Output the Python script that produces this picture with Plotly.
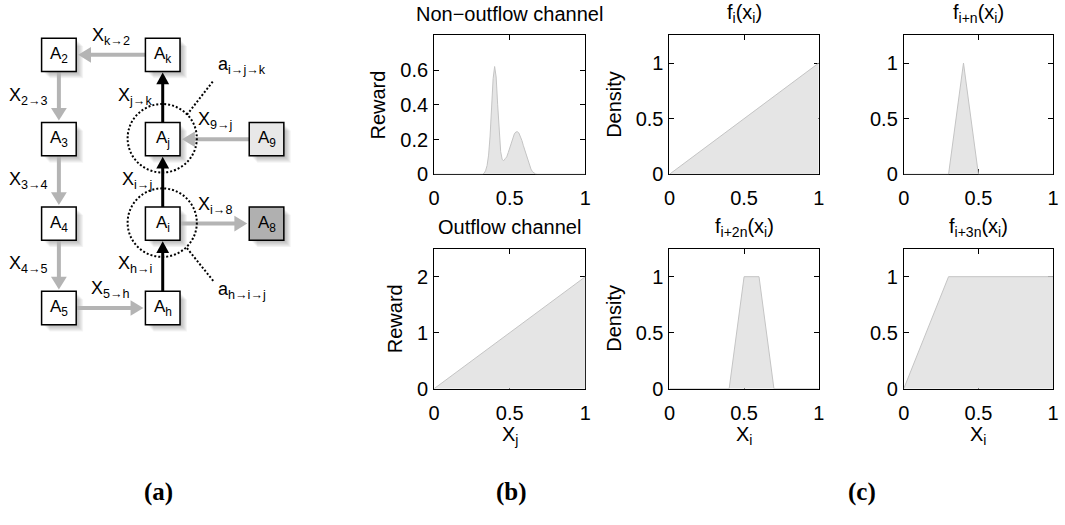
import plotly.graph_objects as go

W, H = 1065, 525

# ---------------- data: panel (b) ----------------
nonout_x = [0, 0.30, 0.32, 0.33, 0.34, 0.35, 0.36, 0.37, 0.38, 0.39, 0.40, 0.41, 0.42, 0.43,
            0.44, 0.45, 0.46, 0.47, 0.48, 0.49, 0.50, 0.51, 0.52, 0.53, 0.54, 0.55, 0.56, 0.57,
            0.58, 0.59, 0.60, 0.61, 0.62, 0.63, 0.64, 0.65, 0.66, 0.67, 0.68, 1.0]
nonout_r = [0, 0, 0, 0.005, 0.02, 0.05, 0.11, 0.22, 0.38, 0.55, 0.62, 0.56, 0.40, 0.24,
            0.13, 0.085, 0.078, 0.09, 0.10, 0.125, 0.155, 0.185, 0.21, 0.232, 0.243, 0.245, 0.238, 0.22,
            0.195, 0.165, 0.135, 0.105, 0.075, 0.05, 0.03, 0.015, 0.006, 0.002, 0, 0]
out_x = [0, 1]
out_r = [0, 2]

# ---------------- data: panel (c) ----------------
fi_x = [0, 1]
fi_y = [0, 1]
fin_x = [0, 0.3, 0.4, 0.5, 1]
fin_y = [0, 0, 1, 0, 0]
fi2n_x = [0, 0.4, 0.5, 0.6, 0.7, 1]
fi2n_y = [0, 0, 1, 1, 0, 0]
fi3n_x = [0, 0.3, 1]
fi3n_y = [0, 1, 1]

x_ticks = [0, 0.5, 1]
x_tick_text = ["0", "0.5", "1"]

# ---------------- data: diagram (a) ----------------
node_names = ["A2", "Ak", "A3", "Aj", "A9", "A4", "Ai", "A8", "A5", "Ah"]
node_text = ["A<sub>2</sub>", "A<sub>k</sub>", "A<sub>3</sub>", "A<sub>j</sub>", "A<sub>9</sub>",
             "A<sub>4</sub>", "A<sub>i</sub>", "A<sub>8</sub>", "A<sub>5</sub>", "A<sub>h</sub>"]
node_col = [0, 1, 0, 1, 2, 0, 1, 2, 0, 1]
node_row = [0, 0, 1, 1, 1, 2, 2, 2, 3, 3]
node_fill = ["white", "white", "white", "white", "#e8e8e8", "white", "white", "#b0b0b0", "white", "white"]

edge_src = ["Ak", "A2", "A3", "A4", "A5", "Ah", "Ai", "Aj", "A9", "Ai"]
edge_dst = ["A2", "A3", "A4", "A5", "Ah", "Ai", "Aj", "Ak", "Aj", "A8"]
edge_main = [False, False, False, False, False, True, True, True, False, False]
edge_text = ["X<sub>k→2</sub>", "X<sub>2→3</sub>", "X<sub>3→4</sub>", "X<sub>4→5</sub>", "X<sub>5→h</sub>",
             "X<sub>h→i</sub>", "X<sub>i→j</sub>", "X<sub>j→k</sub>", "X<sub>9→j</sub>", "X<sub>i→8</sub>"]

circle_nodes = ["Aj", "Ai"]
circle_text = ["a<sub>i→j→k</sub>", "a<sub>h→i→j</sub>"]

panel_labels = ["(a)", "(b)", "(c)"]

# ---------------- style ----------------
FONT = "Liberation Sans, Arial, Helvetica, sans-serif"
FILL = "#e5e5e5"
EDGE = "#c4c4c4"
GREY = "#b4b4b4"

fig = go.Figure()

panels = [
    dict(x=nonout_x, y=nonout_r, yr=[0, 0.8], yt=[0, 0.2, 0.4, 0.6], ytt=["0", "0.2", "0.4", "0.6"],
         title="Non−outflow channel", tsize=20, ylab="Reward", ylx=376, xlab=None),
    dict(x=fi_x, y=fi_y, yr=[0, 1.25], yt=[0, 0.5, 1], ytt=["0", "0.5", "1"],
         title="f<sub>i</sub>(x<sub>i</sub>)", tsize=20, ylab="Density", ylx=615, xlab=None),
    dict(x=fin_x, y=fin_y, yr=[0, 1.25], yt=[0, 0.5, 1], ytt=["0", "0.5", "1"],
         title="f<sub>i+n</sub>(x<sub>i</sub>)", tsize=20, ylab=None, ylx=None, xlab=None),
    dict(x=out_x, y=out_r, yr=[0, 2.5], yt=[0, 1, 2], ytt=["0", "1", "2"],
         title="Outflow channel", tsize=20, ylab="Reward", ylx=393, xlab="X<sub>j</sub>"),
    dict(x=fi2n_x, y=fi2n_y, yr=[0, 1.25], yt=[0, 0.5, 1], ytt=["0", "0.5", "1"],
         title="f<sub>i+2n</sub>(x<sub>i</sub>)", tsize=20, ylab="Density", ylx=615, xlab="X<sub>i</sub>"),
    dict(x=fi3n_x, y=fi3n_y, yr=[0, 1.25], yt=[0, 0.5, 1], ytt=["0", "0.5", "1"],
         title="f<sub>i+3n</sub>(x<sub>i</sub>)", tsize=20, ylab=None, ylx=None, xlab="X<sub>i</sub>"),
]

col_px = [(433, 586), (671, 822), (908, 1059)]
row_px = [(36, 178), (254, 397)]
title_py = [14, 232]

annotations = []
shapes = []

axis_common = dict(showline=True, linecolor="black", linewidth=1, mirror="ticks", ticks="inside",
                   ticklen=5, tickcolor="black", tickwidth=1, showgrid=False, zeroline=False,
                   tickfont=dict(family=FONT, size=20, color="black"), layer="below traces",
                   fixedrange=True)

for i, p in enumerate(panels):
    r, c = divmod(i, 3)
    sfx = "" if i == 0 else str(i + 1)
    fig.add_trace(go.Scatter(x=p["x"], y=p["y"], mode="lines", fill="tozeroy", fillcolor=FILL,
                             line=dict(color=EDGE, width=1), xaxis="x" + sfx, yaxis="y" + sfx,
                             showlegend=False, hoverinfo="skip"))
    x0, x1 = col_px[c]
    y0, y1 = row_px[r]
    fig.update_layout(**{
        "xaxis" + sfx: dict(domain=[x0 / W, x1 / W], range=[0, 1], tickvals=x_ticks, ticktext=x_tick_text,
                            anchor="y" + sfx, ticklabelstandoff=6, **axis_common),
        "yaxis" + sfx: dict(domain=[1 - y1 / H, 1 - y0 / H], range=p["yr"], tickvals=p["yt"], ticktext=p["ytt"],
                            anchor="x" + sfx, ticklabelstandoff=1, **axis_common),
    })
    annotations.append(dict(x=(x0 + x1) / 2 / W, y=1 - title_py[r] / H, xref="paper", yref="paper",
                            text=p["title"], showarrow=False, xanchor="center", yanchor="middle",
                            font=dict(family=FONT, size=p["tsize"], color="black")))
    if p["ylab"]:
        annotations.append(dict(x=p["ylx"] / W, y=1 - (y0 + y1) / 2 / H, xref="paper", yref="paper",
                                text=p["ylab"], showarrow=False, textangle=-90, xanchor="center",
                                yanchor="middle", font=dict(family=FONT, size=20, color="black")))
    if p["xlab"]:
        annotations.append(dict(x=(x0 + x1) / 2 / W, y=1 - 430 / H, xref="paper", yref="paper",
                                text=p["xlab"], showarrow=False, xanchor="center", yanchor="top",
                                font=dict(family=FONT, size=20, color="black")))

# ---------------- diagram (a) ----------------
def PX(x):
    return x / W


def PY(y):
    return 1 - y / H


DX0, DX, DY0, DY = 53.5, 105.0, 56.0, 86.2
BW, BH = 17.5, 17.0
centers = {n: (DX0 + c * DX, DY0 + r * DY) for n, c, r in zip(node_names, node_col, node_row)}

# shadows
for n in node_names:
    cx, cy = centers[n]
    for k in range(1, 8):
        shapes.append(dict(type="rect", xref="paper", yref="paper",
                           x0=PX(cx - BW + k + 1), x1=PX(cx + BW + k), y0=PY(cy - BH + k + 1), y1=PY(cy + BH + k),
                           fillcolor="black", opacity=0.045, line=dict(width=0), layer="above"))

# arrows
for s, d, main, txt in zip(edge_src, edge_dst, edge_main, edge_text):
    sx, sy = centers[s]
    dx, dy = centers[d]
    vx, vy = dx - sx, dy - sy
    ln = (vx ** 2 + vy ** 2) ** 0.5
    ux, uy = vx / ln, vy / ln
    color = "black" if main else GREY
    lw = 3 if main else 4
    L = 12 if main else 13
    hw = 6.5 if main else 8
    gap = 1 if main else 2
    start = (sx + ux * BW, sy + uy * BH)
    tip = (dx - ux * (BW + gap), dy - uy * (BH + gap))
    lend = (tip[0] - ux * L * 0.6, tip[1] - uy * L * 0.6)
    shapes.append(dict(type="line", xref="paper", yref="paper", x0=PX(start[0]), y0=PY(start[1]),
                       x1=PX(lend[0]), y1=PY(lend[1]), line=dict(color=color, width=lw), layer="above"))
    bx, by = tip[0] - ux * L, tip[1] - uy * L
    px_, py_ = -uy, ux
    path = "M {},{} L {},{} L {},{} Z".format(PX(tip[0]), PY(tip[1]),
                                               PX(bx + px_ * hw), PY(by + py_ * hw),
                                               PX(bx - px_ * hw), PY(by - py_ * hw))
    shapes.append(dict(type="path", xref="paper", yref="paper", path=path, fillcolor=color,
                       line=dict(color=color, width=0), layer="above"))
    mx, my = (sx + dx) / 2, (sy + dy) / 2
    if abs(ux) > abs(uy):
        annotations.append(dict(x=PX(mx), y=PY(my - 19), xref="paper", yref="paper", text=txt,
                                showarrow=False, xanchor="center", yanchor="middle",
                                font=dict(family=FONT, size=18, color="black")))
    else:
        annotations.append(dict(x=PX(mx - 9), y=PY(my - 1), xref="paper", yref="paper", text=txt,
                                showarrow=False, xanchor="right", yanchor="middle",
                                font=dict(family=FONT, size=18, color="black")))

# boxes
for n, t, f in zip(node_names, node_text, node_fill):
    cx, cy = centers[n]
    shapes.append(dict(type="rect", xref="paper", yref="paper", x0=PX(cx - BW), x1=PX(cx + BW),
                       y0=PY(cy - BH), y1=PY(cy + BH), fillcolor=f, line=dict(color="black", width=1.5),
                       layer="above"))
    annotations.append(dict(x=PX(cx), y=PY(cy), xref="paper", yref="paper", text=t, showarrow=False,
                            xanchor="center", yanchor="middle", font=dict(family=FONT, size=17, color="black")))

# dotted circles + leader lines
R = 35
lead = [((25, -24), (52, -59), (212, -74)), ((25, 26), (52, 60), (212, 69))]
for n, t, (a, b, lab) in zip(circle_nodes, circle_text, lead):
    cx, cy = centers[n]
    cx -= 0.5
    cy -= 1
    shapes.append(dict(type="circle", xref="paper", yref="paper", x0=PX(cx - R), x1=PX(cx + R),
                       y0=PY(cy - R), y1=PY(cy + R), line=dict(color="black", width=2, dash="2px,2px"),
                       layer="above"))
    shapes.append(dict(type="line", xref="paper", yref="paper", x0=PX(cx + a[0]), y0=PY(cy + a[1]),
                       x1=PX(cx + b[0]), y1=PY(cy + b[1]), line=dict(color="black", width=2, dash="2px,2px"),
                       layer="above"))
    annotations.append(dict(x=PX(lab[0]), y=PY(cy + lab[1]), xref="paper", yref="paper", text=t,
                            showarrow=False, xanchor="left", yanchor="middle",
                            font=dict(family=FONT, size=18, color="black")))

# panel letters
for lbl, x in zip(panel_labels, [154, 511, 866]):
    annotations.append(dict(x=PX(x), y=PY(503), xref="paper", yref="paper", text="<b>" + lbl + "</b>",
                            showarrow=False, xanchor="center", yanchor="middle",
                            font=dict(family="Liberation Serif, Times New Roman, serif", size=25, color="black")))

fig.update_layout(width=W, height=H, margin=dict(l=0, r=0, t=0, b=0), paper_bgcolor="white",
                  plot_bgcolor="white", annotations=annotations, shapes=shapes, showlegend=False)

fig.write_html("out.html", config={"displayModeBar": False},
               post_script="document.body.style.margin='0';document.body.style.overflow='hidden';")
